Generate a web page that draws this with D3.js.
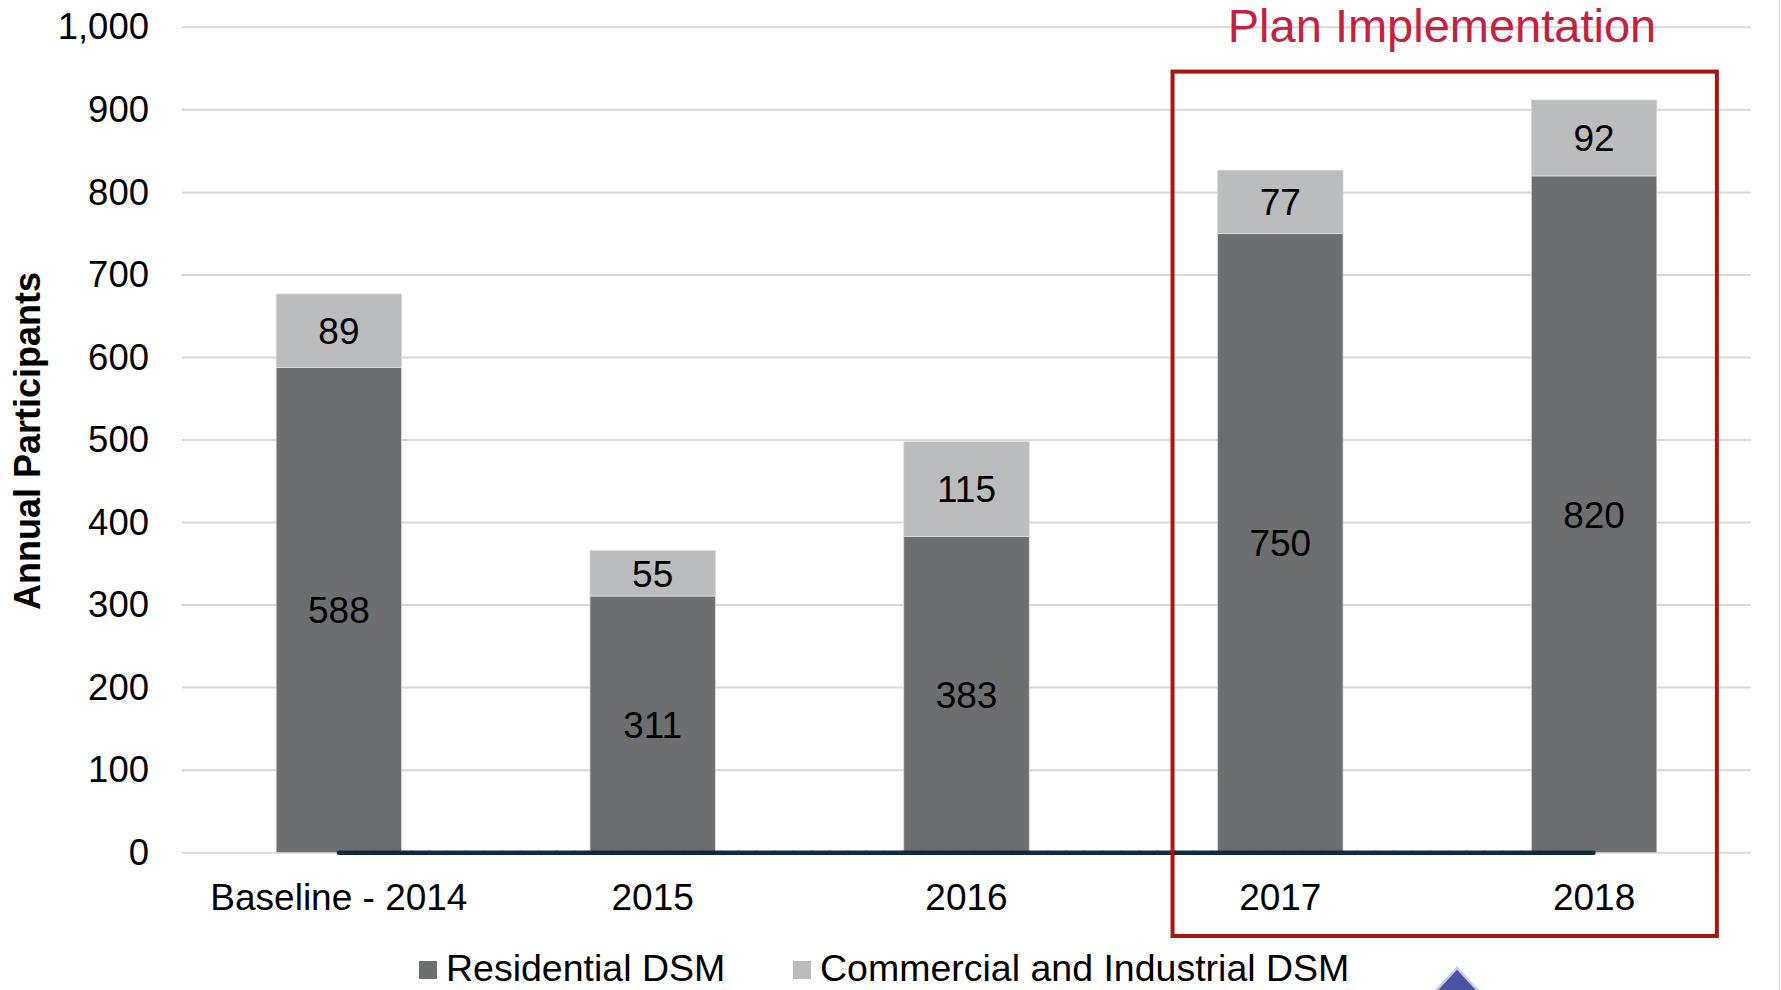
<!DOCTYPE html>
<html>
<head>
<meta charset="utf-8">
<script src="https://cdn.jsdelivr.net/npm/d3@7"></script>
<style>
  html, body { margin: 0; padding: 0; background: #ffffff; }
  svg { display: block; }
  text { font-family: "Liberation Sans", Arial, sans-serif; }
</style>
</head>
<body>
<svg id="chart" width="1781" height="990"></svg>
<script>
// Annual DSM program participants by year
const categories = ["Baseline - 2014", "2015", "2016", "2017", "2018"];
const residential = [588, 311, 383, 750, 820];
const commercialIndustrial = [89, 55, 115, 77, 92];
const baselineLine = [0, 0, 0, 0, 0];
const yTicks = [0, 100, 200, 300, 400, 500, 600, 700, 800, 900, 1000];
const seriesNames = ["Residential DSM", "Commercial and Industrial DSM"];
const planYears = ["2017", "2018"];

const colors = { res: "#6d6e70", ci: "#bbbcbe", grid: "#d9d9d9", line: "#0e2940",
                 box: "#a3180f", boxTitle: "#c5203e" };

const svg = d3.select("#chart");
const W = 1781, H = 990;
const plot = { left: 182, right: 1751, top: 27.3, bottom: 852.7 };

const x = d3.scaleBand()
  .domain(categories)
  .range([plot.left, plot.right])
  .paddingInner(0.6)
  .paddingOuter(0.3);

const y = d3.scaleLinear()
  .domain([0, 1000])
  .range([plot.bottom, plot.top]);

// faint panel edge on the right
svg.append("line")
  .attr("x1", W - 1.5).attr("x2", W - 1.5)
  .attr("y1", 0).attr("y2", H)
  .attr("stroke", "#dcdcdc").attr("stroke-width", 1.5);

// horizontal gridlines
svg.append("g")
  .selectAll("line")
  .data(yTicks)
  .join("line")
  .attr("x1", plot.left).attr("x2", plot.right)
  .attr("y1", d => y(d)).attr("y2", d => y(d))
  .attr("stroke", colors.grid).attr("stroke-width", 2);

// y axis labels
const yAxis = d3.axisLeft(y)
  .tickValues(yTicks)
  .tickSize(0)
  .tickPadding(33)
  .tickFormat(d3.format(","));
const yg = svg.append("g")
  .attr("transform", `translate(${plot.left},0)`)
  .call(yAxis);
yg.select(".domain").remove();
yg.selectAll("text")
  .attr("font-size", 36.5)
  .attr("fill", "#000")
  .style("font-family", "'Liberation Sans', Arial, sans-serif");

// y axis title
svg.append("text")
  .attr("transform", `translate(40,441) rotate(-90)`)
  .attr("text-anchor", "middle")
  .attr("font-size", 36)
  .attr("font-weight", "bold")
  .attr("fill", "#000")
  .text("Annual Participants");

// stacked bars
const rows = categories.map((c, i) => ({
  cat: c, res: residential[i], ci: commercialIndustrial[i]
}));

const bars = svg.append("g");
bars.selectAll("rect.res")
  .data(rows)
  .join("rect")
  .attr("class", "res")
  .attr("x", d => x(d.cat))
  .attr("width", x.bandwidth())
  .attr("y", d => y(d.res))
  .attr("height", d => y(0) - y(d.res))
  .attr("fill", colors.res)
  .attr("stroke", "#dedede").attr("stroke-width", 0.8);

bars.selectAll("rect.ci")
  .data(rows)
  .join("rect")
  .attr("class", "ci")
  .attr("x", d => x(d.cat))
  .attr("width", x.bandwidth())
  .attr("y", d => y(d.res + d.ci))
  .attr("height", d => y(d.res) - y(d.res + d.ci))
  .attr("fill", colors.ci)
  .attr("stroke", "#dedede").attr("stroke-width", 0.8);

// dark reference line along zero
const line = d3.line()
  .x((d, i) => x(categories[i]) + x.bandwidth() / 2)
  .y(d => y(d));
svg.append("path")
  .datum(baselineLine)
  .attr("d", line)
  .attr("fill", "none")
  .attr("stroke", colors.line)
  .attr("stroke-width", 4.5)
  .attr("stroke-linecap", "round")
  .attr("stroke-dasharray", "17 1.2");

// value labels
const labels = svg.append("g")
  .attr("font-size", 37)
  .attr("fill", "#000")
  .attr("text-anchor", "middle");
labels.selectAll("text.res")
  .data(rows)
  .join("text")
  .attr("class", "res")
  .attr("x", d => x(d.cat) + x.bandwidth() / 2)
  .attr("y", d => y(d.res / 2))
  .attr("dy", "0.36em")
  .text(d => d.res);
labels.selectAll("text.ci")
  .data(rows)
  .join("text")
  .attr("class", "ci")
  .attr("x", d => x(d.cat) + x.bandwidth() / 2)
  .attr("y", d => y(d.res + d.ci / 2))
  .attr("dy", "0.36em")
  .text(d => d.ci);

// category labels
svg.append("g")
  .selectAll("text")
  .data(categories)
  .join("text")
  .attr("x", d => x(d) + x.bandwidth() / 2)
  .attr("y", 910)
  .attr("text-anchor", "middle")
  .attr("font-size", 37)
  .attr("fill", "#000")
  .text(d => d);

// plan implementation highlight box
const boxLeft = x(planYears[0]) - 45;
const boxRight = x(planYears[planYears.length - 1]) + x.bandwidth() + 60;
svg.append("rect")
  .attr("x", boxLeft)
  .attr("y", 71.6)
  .attr("width", boxRight - boxLeft)
  .attr("height", 936 - 71.6)
  .attr("fill", "none")
  .attr("stroke", colors.box)
  .attr("stroke-width", 4);

svg.append("text")
  .attr("x", 1442)
  .attr("y", 41.5)
  .attr("text-anchor", "middle")
  .attr("font-size", 47)
  .attr("fill", colors.boxTitle)
  .text("Plan Implementation");

// legend
const legend = svg.append("g");
const legendItems = [
  { name: seriesNames[0], color: colors.res, x: 419 },
  { name: seriesNames[1], color: colors.ci, x: 793 }
];
legendItems.forEach(it => {
  legend.append("rect")
    .attr("x", it.x).attr("y", 961)
    .attr("width", 18).attr("height", 18)
    .attr("fill", it.color);
  legend.append("text")
    .attr("x", it.x + 27).attr("y", 981)
    .attr("font-size", 37.5)
    .attr("fill", "#000")
    .text(it.name);
});

// corner logo mark
svg.append("path")
  .attr("d", "M1457,968 L1483,996 L1431,996 Z")
  .attr("fill", "#4b53a3")
  .attr("stroke", "#c9cbe6")
  .attr("stroke-width", 2.5);
</script>
</body>
</html>
